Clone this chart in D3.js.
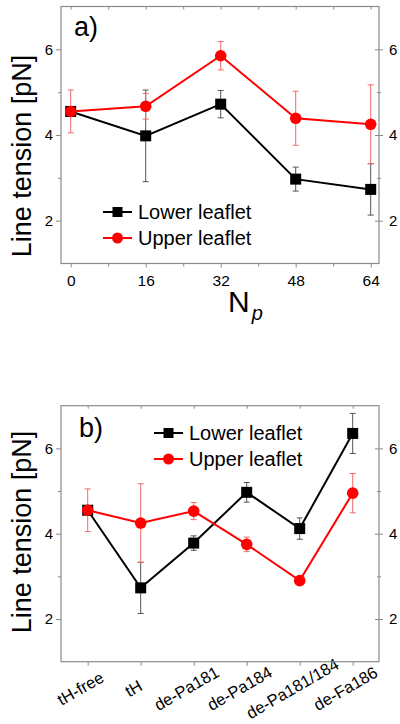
<!DOCTYPE html>
<html>
<head>
<meta charset="utf-8">
<script src="https://cdn.jsdelivr.net/npm/d3@7"></script>
<style>
  html, body { margin: 0; padding: 0; background: #fff; }
  svg { display: block; }
  text { font-family: "Liberation Sans", Arial, sans-serif; fill: #000; }
</style>
</head>
<body>
<script>
// ---------------- data ----------------
const npValues   = [0, 16, 32, 48, 64];
const lowerA     = [4.55, 3.98, 4.72, 2.97, 2.73];
const lowerAErr  = [0.10, 1.07, 0.32, 0.28, 0.60];
const upperA     = [4.55, 4.67, 5.85, 4.39, 4.25];
const upperAErr  = [0.50, 0.30, 0.33, 0.63, 0.92];

const categoriesB = ["tH-free", "tH", "de-Pa181", "de-Pa184", "de-Pa181/184", "de-Fa186"];
const lowerB     = [4.55, 2.73, 3.78, 4.97, 4.12, 6.35];
const lowerBErr  = [0.10, 0.60, 0.17, 0.23, 0.25, 0.47];
const upperB     = [4.55, 4.25, 4.53, 3.75, 2.90, 4.95];
const upperBErr  = [0.50, 0.92, 0.20, 0.17, 0.08, 0.46];

const yTickValues  = [2, 3, 4, 5, 6];
const yLabelValues = [2, 4, 6];
const xMajorA = [0, 16, 32, 48, 64];
const xMinorA = [8, 24, 40, 56];
const seriesNames = ["Lower leaflet", "Upper leaflet"];

// ---------------- layout ----------------
const W = 400, H = 724;
const BLACK = "#000", RED = "#ff0000";
const AXIS = "#8a8a8a";
const svg = d3.select("body").append("svg").attr("width", W).attr("height", H);

const box = { left: 61, right: 379 };
const panelA = { top: 6.5, bottom: 263.5 };
const panelB = { top: 405.7, bottom: 661.7 };

const yA = d3.scaleLinear().domain([1, 7]).range([panelA.bottom, panelA.top]);
const yB = d3.scaleLinear().domain([1, 7]).range([panelB.bottom, panelB.top]);
const xA = d3.scaleLinear().domain([0, 64]).range([70.7, 370.7]);
const xB = d3.scalePoint().domain(categoriesB).range([87.7, 352.7]);

function styleAxis(g) {
  g.select(".domain").remove();
  g.selectAll(".tick line").attr("stroke", AXIS).attr("stroke-width", 1);
  g.selectAll(".tick text").attr("font-family", '"Liberation Sans", Arial, sans-serif').attr("fill", "#000");
}

function drawYAxes(g, y, top, bottom) {
  const left = g.append("g").attr("transform", `translate(${box.left},0)`)
    .call(d3.axisLeft(y).tickValues(yTickValues).tickSize(5).tickPadding(3)
      .tickFormat(d => yLabelValues.includes(d) ? d : ""));
  styleAxis(left);
  left.selectAll(".tick line").attr("x2", d => yLabelValues.includes(d) ? -5 : -3);
  left.selectAll(".tick text").attr("font-size", 15);
  const right = g.append("g").attr("transform", `translate(${box.right},0)`)
    .call(d3.axisRight(y).tickValues(yTickValues).tickSize(4).tickPadding(6)
      .tickFormat(d => yLabelValues.includes(d) ? d : ""));
  styleAxis(right);
  right.selectAll(".tick line").attr("x1", d => yLabelValues.includes(d) ? -4 : -2)
    .attr("x2", d => yLabelValues.includes(d) ? 4 : 2);
  right.selectAll(".tick text").attr("font-size", 15);
  g.append("rect").attr("x", box.left).attr("y", top)
    .attr("width", box.right - box.left).attr("height", bottom - top)
    .attr("fill", "none").attr("stroke", AXIS).attr("stroke-width", 1.2);
}

function drawErrors(g, xs, ys, errs, x, y, color) {
  const gg = g.append("g").attr("stroke", color).attr("stroke-width", 1).attr("fill", "none");
  xs.forEach((xv, i) => {
    const px = x(xv), y1 = y(ys[i] + errs[i]), y2 = y(ys[i] - errs[i]);
    gg.append("line").attr("x1", px).attr("x2", px).attr("y1", y1).attr("y2", y2);
    gg.append("line").attr("x1", px - 3).attr("x2", px + 3).attr("y1", y1).attr("y2", y1);
    gg.append("line").attr("x1", px - 3).attr("x2", px + 3).attr("y1", y2).attr("y2", y2);
  });
}

function drawSeries(g, xs, ys, x, y, color, shape) {
  const line = d3.line().x((d, i) => x(xs[i])).y(d => y(d));
  g.append("path").datum(ys).attr("d", line).attr("fill", "none")
    .attr("stroke", color).attr("stroke-width", 2);
  if (shape === "square") {
    g.selectAll(null).data(ys).enter().append("rect")
      .attr("x", (d, i) => x(xs[i]) - 5.5).attr("y", d => y(d) - 5.5)
      .attr("width", 11).attr("height", 11).attr("fill", color);
  } else {
    g.selectAll(null).data(ys).enter().append("circle")
      .attr("cx", (d, i) => x(xs[i])).attr("cy", d => y(d)).attr("r", 5.8).attr("fill", color);
  }
}

function drawLegend(g, x0, y0) {
  const rows = [{ name: seriesNames[0], color: BLACK, shape: "square" },
                { name: seriesNames[1], color: RED, shape: "circle" }];
  rows.forEach((r, i) => {
    const yy = y0 + i * 26;
    g.append("line").attr("x1", x0).attr("x2", x0 + 29).attr("y1", yy).attr("y2", yy)
      .attr("stroke", r.color).attr("stroke-width", 2);
    if (r.shape === "square") {
      g.append("rect").attr("x", x0 + 14.5 - 5).attr("y", yy - 5).attr("width", 10).attr("height", 10).attr("fill", r.color);
    } else {
      g.append("circle").attr("cx", x0 + 14.5).attr("cy", yy).attr("r", 5.5).attr("fill", r.color);
    }
    g.append("text").attr("x", x0 + 35).attr("y", yy + 7).attr("font-size", 20).text(r.name);
  });
}

// ---------------- panel a ----------------
const gA = svg.append("g");
const bA = gA.append("g").attr("transform", `translate(0,${panelA.bottom})`)
  .call(d3.axisBottom(xA).tickValues(xMajorA.concat(xMinorA)).tickSize(4).tickPadding(7)
    .tickFormat(d => xMajorA.includes(d) ? d : ""));
styleAxis(bA);
bA.selectAll(".tick line").attr("y2", d => xMajorA.includes(d) ? 4 : 3);
bA.selectAll(".tick text").attr("font-size", 15.5);
const tA = gA.append("g").attr("transform", `translate(0,${panelA.top})`)
  .call(d3.axisBottom(xA).tickValues(xMajorA.concat(xMinorA)).tickSize(3).tickFormat(""));
styleAxis(tA);
drawYAxes(gA, yA, panelA.top, panelA.bottom);

drawErrors(gA, npValues, lowerA, lowerAErr, xA, yA, "#555");
drawErrors(gA, npValues, upperA, upperAErr, xA, yA, "#f06a6a");
drawSeries(gA, npValues, lowerA, xA, yA, BLACK, "square");
drawSeries(gA, npValues, upperA, xA, yA, RED, "circle");
drawLegend(gA, 103, 212);

gA.append("text").attr("x", 74).attr("y", 36).attr("font-size", 27).text("a)");
gA.append("text").attr("transform", "translate(31,156) rotate(-90)")
  .attr("text-anchor", "middle").attr("font-size", 27).text("Line tension [pN]");
const np = gA.append("text").attr("x", 228).attr("y", 312).attr("font-size", 30);
np.append("tspan").text("N");
np.append("tspan").attr("font-size", 20).attr("font-style", "italic").attr("dx", 2).attr("dy", 8).text("p");

// ---------------- panel b ----------------
const gB = svg.append("g");
const bB = gB.append("g").attr("transform", `translate(0,${panelB.bottom})`)
  .call(d3.axisBottom(xB).tickSize(4).tickFormat(""));
styleAxis(bB);
bB.selectAll(".tick").append("text")
  .attr("transform", "translate(-7,28) rotate(-30)")
  .attr("text-anchor", "middle").attr("dominant-baseline", "middle")
  .attr("font-size", 16.5).attr("fill", "#000")
  .text(d => d);
const tB = gB.append("g").attr("transform", `translate(0,${panelB.top})`)
  .call(d3.axisBottom(xB).tickSize(3).tickFormat(""));
styleAxis(tB);
drawYAxes(gB, yB, panelB.top, panelB.bottom);

drawErrors(gB, categoriesB, lowerB, lowerBErr, xB, yB, "#555");
drawErrors(gB, categoriesB, upperB, upperBErr, xB, yB, "#f06a6a");
drawSeries(gB, categoriesB, lowerB, xB, yB, BLACK, "square");
drawSeries(gB, categoriesB, upperB, xB, yB, RED, "circle");
drawLegend(gB, 154, 433);

gB.append("text").attr("x", 79).attr("y", 437).attr("font-size", 27).text("b)");
gB.append("text").attr("transform", "translate(31,532) rotate(-90)")
  .attr("text-anchor", "middle").attr("font-size", 27).text("Line tension [pN]");
</script>
</body>
</html>
